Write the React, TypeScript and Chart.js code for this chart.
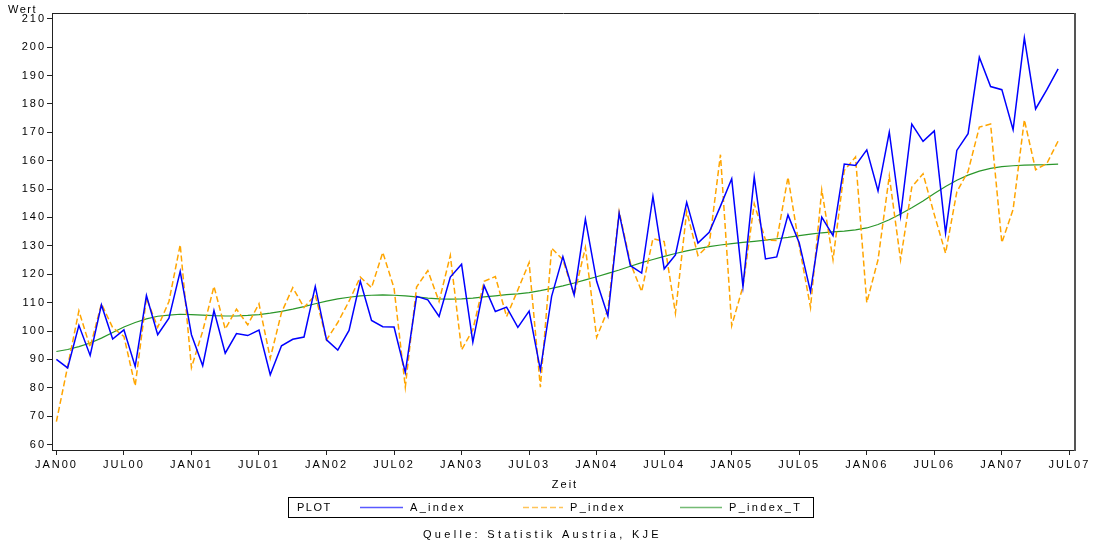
import React, { useEffect, useRef } from 'react';
import { Chart, registerables } from 'chart.js';

Chart.register(...registerables);

const tickLabels = ['JAN00', 'JUL00', 'JAN01', 'JUL01', 'JAN02', 'JUL02', 'JAN03', 'JUL03', 'JAN04', 'JUL04', 'JAN05', 'JUL05', 'JAN06', 'JUL06', 'JAN07', 'JUL07'];
const yTicks = [60, 70, 80, 90, 100, 110, 120, 130, 140, 150, 160, 170, 180, 190, 200, 210];
const seriesNames = ['A_index', 'P_index', 'P_index_T'];

// monthly values, Jan 2000 .. Jun 2007
const A_index = [
  90, 87, 102, 91.4, 109.2, 97.2, 100.4, 87.5, 112.5, 98.7, 104.5, 121,
  98.7, 87.8, 107.2, 92.2, 99.1, 98.4, 100.3, 84.6, 94.8, 97.1, 97.9, 115.7,
  96.9, 93.3, 100.2, 117.6, 103.7, 101.5, 101.4, 85.4, 112.2, 111, 105.1, 119,
  123.5, 96.1, 116, 106.9, 108.4, 101.3, 107, 86.3, 112.2, 126.2, 112.7, 139.4,
  117.5, 105.3, 141.5, 123, 120.4, 147.4, 121.9, 126.8, 145.3, 131, 134.8, 144,
  153.6, 115.7, 154.2, 125.4, 126.1, 140.9, 131, 113.9, 140.1, 133.6, 158.8, 158.3,
  163.8, 149.3, 170, 140.5, 172.9, 166.8, 170.5, 134.5, 163.6, 169.5, 196.4, 186.1,
  185, 170.9, 203.2, 178.2, 185, 192.3,
];
const P_index = [
  68.1, 87.5, 107.1, 94.3, 109.6, 101.2, 98.1, 80.7, 111.6, 101.3, 110.4, 130.4,
  87.1, 100, 115.7, 100.7, 107.7, 102.2, 109.6, 90.4, 106.5, 115.3, 108.3, 112.7,
  96.9, 103, 110.5, 119, 115.3, 127.7, 115.1, 80.3, 115.5, 121.3, 110.4, 126.6,
  93.4, 100.4, 117.5, 119.2, 105.1, 114.5, 124.1, 80.2, 129.2, 125.1, 112.7, 129.4,
  97.8, 107.5, 142.1, 123.9, 113.9, 132.5, 131.5, 106.3, 142.1, 126.6, 130.4, 162.1,
  101.9, 115.7, 144.8, 132.1, 131.9, 154.2, 130, 108.3, 149.7, 125.1, 156.5, 161.3,
  110, 125.1, 154.6, 125.1, 150.7, 155.4, 141, 127.4, 149, 156.2, 171.8, 172.9,
  131.1, 142.8, 174.4, 156.8, 159, 166.9,
];
const P_index_T = [
  92.8, 93.5, 94.5, 95.8, 97.5, 99.5, 101.4, 103, 104.3, 105.2, 105.6, 105.9,
  105.8, 105.6, 105.4, 105.3, 105.3, 105.5, 105.8, 106.3, 106.9, 107.7, 108.6, 109.6,
  110.5, 111.3, 111.9, 112.4, 112.6, 112.7, 112.6, 112.4, 112, 111.6, 111.3, 111.2,
  111.3, 111.6, 112, 112.4, 112.8, 113.1, 113.5, 114.2, 115, 115.9, 116.9, 118,
  119.1, 120.3, 121.5, 122.8, 124.1, 125.2, 126.3, 127.3, 128.2, 129, 129.7, 130.3,
  130.8, 131.2, 131.6, 132, 132.5, 133, 133.6, 134.1, 134.6, 134.9, 135.2, 135.6,
  136.3, 137.5, 139.2, 141.2, 143.4, 145.8, 148.4, 150.9, 153.1, 154.9, 156.3, 157.3,
  157.9, 158.2, 158.4, 158.5, 158.6, 158.8,
];

const FONT = "'Liberation Sans', Arial, sans-serif";
const colors = ['#0000ff', '#ffa500', '#2a962a'];
const dashes: number[][] = [[], [6, 3], []];
const widths = [1.5, 1.5, 1.2];
const TICK_SPACING = '2px';

const toPoints = (arr: number[]) => arr.map((v, i) => ({ x: i, y: v }));

const spacing = {
  id: 'spacing',
  beforeLayout(chart: any) {
    chart.ctx.letterSpacing = TICK_SPACING;
  },
  beforeDraw(chart: any) {
    chart.ctx.letterSpacing = TICK_SPACING;
  },
};

const decor = {
  id: 'decor',
  afterDraw(chart: any) {
    const { ctx } = chart;
    const { left, right, top, bottom } = chart.chartArea;
    ctx.save();
    // frame (top + right)
    ctx.strokeStyle = '#222';
    ctx.lineWidth = 1;
    ctx.beginPath();
    ctx.moveTo(left, top + 0.5);
    ctx.lineTo(right, top + 0.5);
    ctx.stroke();
    ctx.strokeStyle = '#555';
    ctx.lineWidth = 2;
    ctx.beginPath();
    ctx.moveTo(right, top);
    ctx.lineTo(right, bottom + 1);
    ctx.stroke();

    ctx.fillStyle = '#000';
    ctx.font = `11px ${FONT}`;
    ctx.textBaseline = 'middle';
    ctx.textAlign = 'left';
    ctx.letterSpacing = '1.5px';
    ctx.fillText('Wert', 8, 10);

    ctx.textAlign = 'center';
    ctx.letterSpacing = '2px';
    ctx.fillText('Zeit', 565, 485);

    // legend box
    ctx.strokeStyle = '#000';
    ctx.lineWidth = 1;
    ctx.strokeRect(288.5, 497.5, 525, 20);
    ctx.textAlign = 'left';
    ctx.letterSpacing = '1.5px';
    ctx.fillText('PLOT', 297, 508);
    const samples = [
      { x0: 360, x1: 403, tx: 410 },
      { x0: 523, x1: 563, tx: 570 },
      { x0: 680, x1: 722, tx: 729 },
    ];
    chart.data.datasets.forEach((ds: any, i: number) => {
      const s = samples[i];
      ctx.save();
      ctx.globalAlpha = 0.65;
      ctx.strokeStyle = ds.borderColor;
      ctx.lineWidth = 1.5;
      ctx.setLineDash(ds.borderDash || []);
      ctx.beginPath();
      ctx.moveTo(s.x0, 507.5);
      ctx.lineTo(s.x1, 507.5);
      ctx.stroke();
      ctx.restore();
      ctx.fillStyle = '#000';
      ctx.letterSpacing = '2.3px';
      ctx.fillText(ds.label, s.tx, 508);
    });

    ctx.textAlign = 'left';
    ctx.letterSpacing = '3.3px';
    ctx.fillText('Quelle: Statistik Austria, KJE', 423, 535);
    ctx.restore();
  },
};

export default function App() {
  const canvasRef = useRef<HTMLCanvasElement | null>(null);

  useEffect(() => {
    document.body.style.margin = '0';
    const canvas = canvasRef.current;
    if (!canvas) return;
    const series = [A_index, P_index, P_index_T];
    const chart = new Chart(canvas, {
      type: 'line',
      data: {
        datasets: series.map((arr, i) => ({
          label: seriesNames[i],
          data: toPoints(arr),
          borderColor: colors[i],
          backgroundColor: colors[i],
          borderWidth: widths[i],
          borderDash: dashes[i],
          pointRadius: 0,
          tension: 0,
          fill: false,
        })),
      },
      options: {
        animation: false,
        responsive: false,
        devicePixelRatio: 1,
        layout: { padding: { left: 0, right: 20, top: 13, bottom: 0 } },
        plugins: {
          legend: { display: false },
          tooltip: { enabled: false },
        },
        scales: {
          x: {
            type: 'linear',
            min: -0.39,
            max: 90.5,
            afterBuildTicks: (scale: any) => {
              scale.ticks = tickLabels.map((_, i) => ({ value: i * 6 }));
            },
            afterFit: (scale: any) => {
              scale.height = 94;
            },
            ticks: {
              autoSkip: false,
              maxRotation: 0,
              minRotation: 0,
              padding: 3,
              color: '#000',
              font: { family: FONT, size: 11 },
              callback: (v: any) => tickLabels[Math.round(Number(v) / 6)] ?? '',
            },
            grid: {
              drawOnChartArea: false,
              drawTicks: true,
              tickLength: 5,
              color: '#222',
            },
            border: { display: true, color: '#222', width: 1 },
          },
          y: {
            type: 'linear',
            min: 58.1,
            max: 212,
            afterBuildTicks: (scale: any) => {
              scale.ticks = yTicks.map((v) => ({ value: v }));
            },
            afterFit: (scale: any) => {
              scale.width = 52;
            },
            ticks: {
              padding: 1,
              color: '#000',
              font: { family: FONT, size: 11 },
              callback: (v: any) => String(v),
            },
            grid: {
              drawOnChartArea: false,
              drawTicks: true,
              tickLength: 5,
              color: '#222',
            },
            border: { display: true, color: '#222', width: 1 },
          },
        },
      },
      plugins: [spacing, decor],
    });
    return () => chart.destroy();
  }, []);

  return (
    <div style={{ width: 1095, height: 544, background: '#fff' }}>
      <canvas ref={canvasRef} width={1095} height={544} style={{ display: 'block' }} />
    </div>
  );
}
